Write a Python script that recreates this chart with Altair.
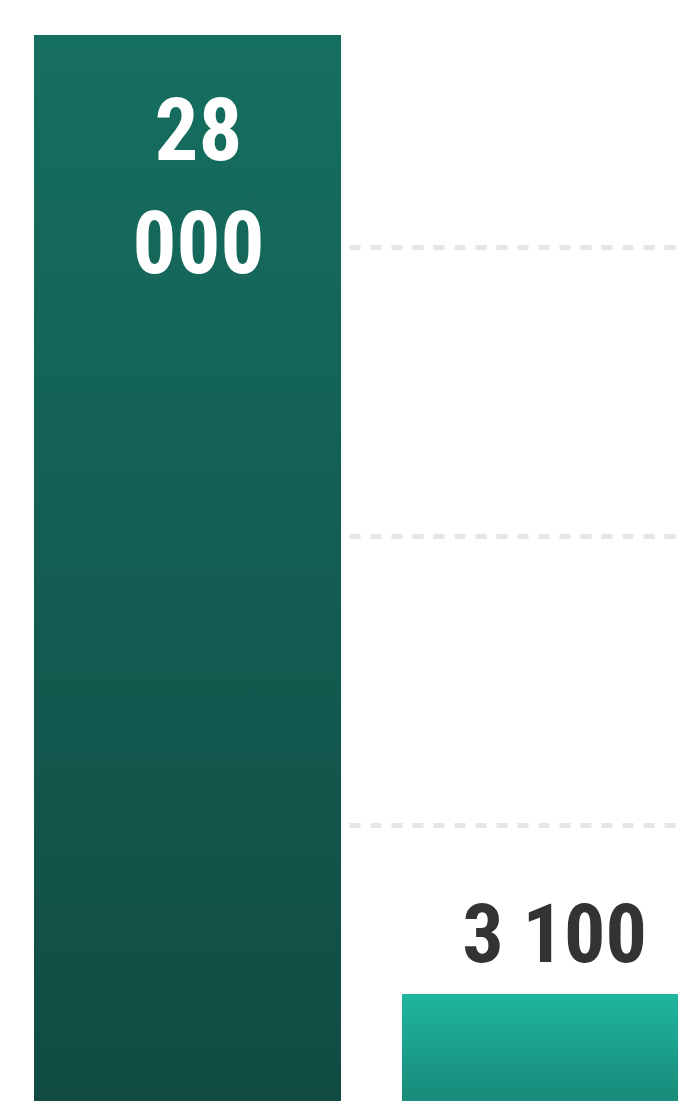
import altair as alt
import pandas as pd

categories = ["A", "B"]
values = [28000, 3100]
labels = ["28 000", "3 100"]
grid_values = [7500, 15000, 22500]

df = pd.DataFrame({"category": categories, "value": values, "label": labels})

FONT = "'Roboto Condensed', 'Open Sans Condensed', Roboto, sans-serif"

x_enc = alt.X("category:N", axis=None,
              scale=alt.Scale(range=[26, 701], paddingInner=61 / 368, paddingOuter=0))
y_enc = alt.Y("value:Q",
              scale=alt.Scale(domain=[0, 30000], range=[1105.4, 1105.4 - 0.03851 * 30000]),
              axis=alt.Axis(values=grid_values, labels=False, ticks=False, domain=False,
                            grid=True, gridDash=[11, 10], gridColor="#e6e6e6",
                            gridWidth=5, title=None))

base = alt.Chart(df)

grad1 = alt.Gradient(gradient="linear", x1=0, x2=0, y1=0, y2=1,
                     stops=[alt.GradientStop(color="#156f60", offset=0),
                            alt.GradientStop(color="#114b43", offset=1)])
grad2 = alt.Gradient(gradient="linear", x1=0, x2=0, y1=0, y2=1,
                     stops=[alt.GradientStop(color="#20b69e", offset=0),
                            alt.GradientStop(color="#178676", offset=1)])

bar1 = base.transform_filter(alt.datum.category == categories[0]).mark_bar(
    color=grad1, clip=True).encode(x=x_enc, y=y_enc)
bar2 = base.transform_filter(alt.datum.category == categories[1]).mark_bar(
    color=grad2, clip=True).encode(x=x_enc, y=y_enc)

text1 = base.transform_filter(alt.datum.category == categories[0]).mark_text(
    font=FONT, fontWeight="bold", fontSize=87, color="white",
    baseline="alphabetic", align="center", dy=125, dx=11,
    lineBreak=" ", lineHeight=113).encode(x=x_enc, y=y_enc, text="label:N")
text2 = base.transform_filter(alt.datum.category == categories[1]).mark_text(
    font=FONT, fontWeight="bold", fontSize=82, color="#333333",
    baseline="alphabetic", align="center", dy=-32, dx=-1).encode(
    x=x_enc, y=y_enc, text="label:N")

chart = alt.layer(bar1, bar2, text1, text2).properties(
    width=670, height=1093, padding=0,
    autosize=alt.AutoSizeParams(type="none"),
).configure_view(stroke=None)

chart.save("out.html", embed_options={"renderer": "svg", "actions": False})
